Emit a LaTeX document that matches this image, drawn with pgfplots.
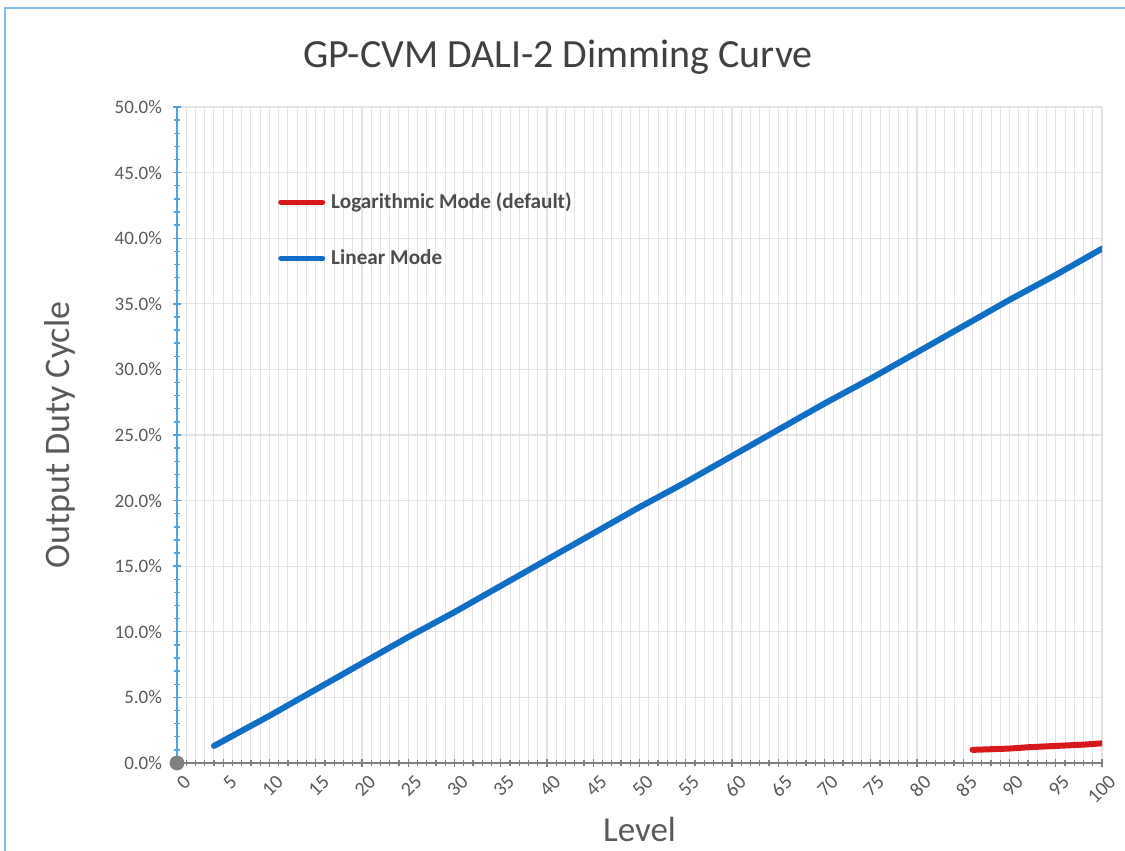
\documentclass[border=0pt]{standalone}
\usepackage{pgfplots}
\pgfplotsset{compat=1.18}
\usepackage{fontspec}
\setmainfont{Carlito}
\definecolor{linblue}{HTML}{0F6FC6}
\definecolor{logred}{HTML}{D7191C}
\definecolor{txtgray}{HTML}{595959}
\definecolor{axblue}{HTML}{4EA3E0}
\definecolor{gridgray}{HTML}{E3E3E3}

\begin{document}
\begin{tikzpicture}[x=1pt,y=1pt]
% page frame, 1125 x 851 px at 0.5pt/px, axis origin at px (177,763)
\path[use as bounding box] (-88.5,-44) rectangle (474,381.5);
\draw[axblue!70, line width=1pt] (-86,-44) -- (-86,377.5) -- (474,377.5);
\node[font=\fontsize{20}{24}\selectfont, text=black!75] at (190.5,353) {GP-CVM DALI-2 Dimming Curve};
\begin{axis}[
    at={(0,0)}, anchor=south west,
    scale only axis,
    width=462.5pt, height=328pt,
    xmin=0, xmax=100,
    ymin=0, ymax=50,
    xtick={0,5,...,100},
    minor x tick num=4,
    ytick={0,5,...,50},
    minor y tick num=4,
    tick align=center,
    major tick length=4pt, minor tick length=3pt,
    xmajorgrids, xminorgrids, ymajorgrids,
    major grid style={gridgray, line width=0.6pt},
    minor grid style={gridgray, line width=0.5pt},
    axis x line*=bottom, axis y line*=left,
    x axis line style={black!50, line width=1pt, -},
    y axis line style={axblue, line width=1pt, -},
    xtick style={black!50, line width=0.7pt},
    ytick style={axblue, line width=0.7pt},
    xticklabel style={rotate=45, anchor=north east, font=\fontsize{10}{12}\selectfont, text=txtgray, xshift=3pt, yshift=-1pt},
    yticklabel style={font=\fontsize{9.5}{11}\selectfont, text=txtgray, xshift=-2pt},
    yticklabel={\pgfmathprintnumber[fixed,fixed zerofill,precision=1]{\tick}\%},
    /pgf/number format/assume math mode=true,
    xlabel={Level},
    ylabel={Output Duty Cycle},
    xlabel style={font=\fontsize{17.5}{20}\selectfont, text=txtgray, yshift=2pt},
    ylabel style={font=\fontsize{18}{20}\selectfont, text=txtgray, yshift=13pt},
    legend style={at={(axis cs:10.9,43.8)}, anchor=north west, draw=none, fill=none,
        font=\bfseries\fontsize{10.6}{12.5}\selectfont, text=black!70,
        row sep=15pt, inner sep=0pt,
        /tikz/every odd column/.append style={column sep=1pt}},
    legend image code/.code={\draw[#1, line width=2.5pt] (0pt,0pt) -- (21pt,0pt);},
    legend cell align=left,
    clip mode=individual,
]
\addplot[logred, line width=3pt, line cap=round] coordinates {
    (86,1.0) (88,1.05) (90,1.1) (92,1.2) (95,1.3) (98,1.4) (100,1.5)
};
\addlegendentry{Logarithmic Mode (default)}
\addplot[linblue, line width=3pt, line cap=round] coordinates {
    (4,1.3) (10,3.6) (15,5.6) (20,7.6) (25,9.6) (30,11.5) (35,13.5) (40,15.5)
    (45,17.5) (50,19.5) (55,21.4) (60,23.4) (65,25.4) (70,27.4) (75,29.3)
    (80,31.3) (85,33.3) (90,35.3) (95,37.2) (100,39.2)
};
\addlegendentry{Linear Mode}
\addplot[forget plot, only marks, mark=*, mark size=3.5pt, color=black!50] coordinates {(0,0)};
\end{axis}
\end{tikzpicture}
\end{document}
